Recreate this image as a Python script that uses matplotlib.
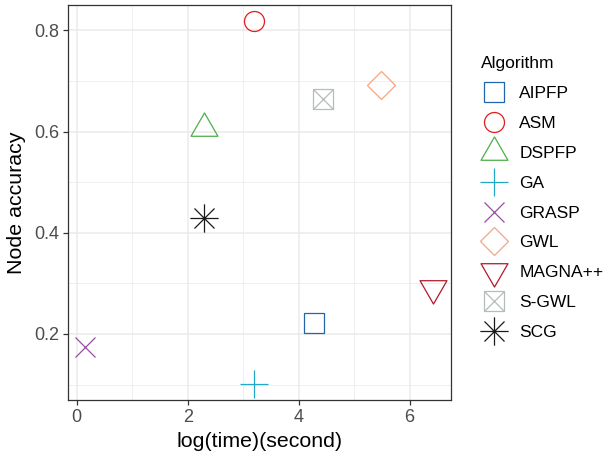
import numpy as np
import matplotlib
matplotlib.use('Agg')
import matplotlib.pyplot as plt
from matplotlib.path import Path
from matplotlib.ticker import MultipleLocator

plt.rcParams['font.family'] = ['Liberation Sans', 'DejaVu Sans']

# Data
algorithms = ['AIPFP', 'ASM', 'DSPFP', 'GA', 'GRASP', 'GWL', 'MAGNA++', 'S-GWL', 'SCG']
log_time = [4.27, 3.20, 2.30, 3.19, 0.15, 5.48, 6.43, 4.43, 2.30]
node_acc = [0.221, 0.818, 0.607, 0.102, 0.175, 0.693, 0.290, 0.664, 0.429]
colors = ['#2166AC', '#E41A1C', '#4DAF4A', '#1FA8C9', '#984EA3',
          '#F4A582', '#B2182B', '#B4BCBC', '#1A1A1A']

# R style shapes
tri_up = Path([(0, 1), (0.866, -0.5), (-0.866, -0.5), (0, 1)],
              [Path.MOVETO, Path.LINETO, Path.LINETO, Path.CLOSEPOLY])
tri_down = Path([(0, -1), (0.866, 0.5), (-0.866, 0.5), (0, -1)],
                [Path.MOVETO, Path.LINETO, Path.LINETO, Path.CLOSEPOLY])
s2 = np.sqrt(2)
star = Path([(-s2, 0), (s2, 0), (0, -s2), (0, s2), (-1, -1), (1, 1), (-1, 1), (1, -1)],
            [Path.MOVETO, Path.LINETO] * 4)
sq_x = Path([(-1, -1), (1, -1), (1, 1), (-1, 1), (-1, -1), (-1, -1), (1, 1), (-1, 1), (1, -1)],
            [Path.MOVETO, Path.LINETO, Path.LINETO, Path.LINETO, Path.CLOSEPOLY,
             Path.MOVETO, Path.LINETO, Path.MOVETO, Path.LINETO])

markers = ['s', 'o', tri_up, '+', 'x', 'D', tri_down, sq_x, star]
sizes = [14.4, 14.4, 22.4, 20.4, 14.4, 14.4, 22.4, 14.4, 20.4]

fig = plt.figure(figsize=(6.03, 4.59), dpi=100)
ax = fig.add_axes([0.1128, 0.1285, 0.6346, 0.8613])

for name, x, y, c, m, ms in zip(algorithms, log_time, node_acc, colors, markers, sizes):
    ax.plot([x], [y], linestyle='none', marker=m, markersize=ms,
            markerfacecolor='none', markeredgecolor=c, markeredgewidth=0.9,
            label=name)

ax.set_xlim(-0.157, 6.74)
ax.set_ylim(0.0694, 0.851)
ax.xaxis.set_major_locator(MultipleLocator(2))
ax.xaxis.set_minor_locator(MultipleLocator(1))
ax.yaxis.set_minor_locator(MultipleLocator(0.1))
ax.set_yticks([0.2, 0.4, 0.6, 0.8])
ax.set_yticklabels(['0.2', '0.4', '0.6', '0.8'])

ax.grid(which='major', color='#EBEBEB', linewidth=1.1)
ax.grid(which='minor', color='#EBEBEB', linewidth=0.55)
ax.set_axisbelow(True)
for sp in ax.spines.values():
    sp.set_color('#333333')
    sp.set_linewidth(0.9)
ax.tick_params(which='major', length=3.5, width=0.9, color='#333333',
               labelcolor='#4D4D4D', labelsize=13, pad=3)
ax.tick_params(which='minor', length=0)

ax.set_xlabel('log(time)(second)', fontsize=15.4, color='black', labelpad=4)
ax.set_ylabel('Node accuracy', fontsize=15.4, color='black', labelpad=6)

leg = ax.legend(title='Algorithm', loc='upper left', bbox_to_anchor=(1.0226, 0.925),
                frameon=False, fontsize=12.5, title_fontsize=12.5,
                labelspacing=0.85, handletextpad=0.7, handlelength=1.5,
                borderpad=1.25, borderaxespad=0, numpoints=1)
leg._legend_box.align = 'left'

fig.savefig('out.png', dpi=100)
